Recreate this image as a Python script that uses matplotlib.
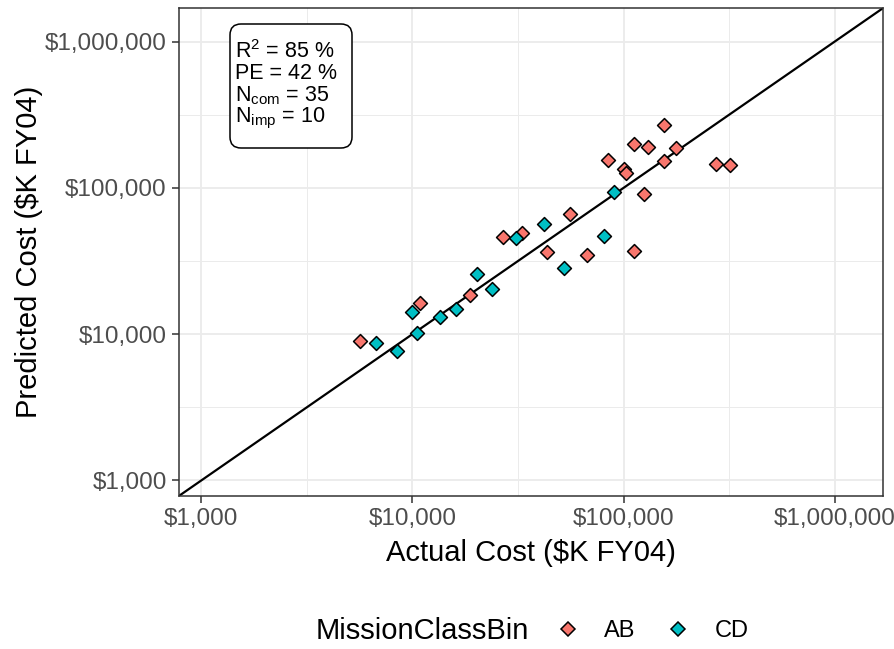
import matplotlib
matplotlib.use("Agg")
import matplotlib.pyplot as plt
from matplotlib.lines import Line2D
from matplotlib.patches import FancyBboxPatch
from matplotlib.ticker import FixedLocator, FuncFormatter, NullFormatter

plt.rcParams['font.family'] = ['Liberation Sans', 'DejaVu Sans']
plt.rcParams['mathtext.fontset'] = 'custom'
plt.rcParams['mathtext.rm'] = 'Liberation Sans'
plt.rcParams['mathtext.it'] = 'Liberation Sans:italic'

# actual vs predicted cost ($K FY04), by mission class
ab_actual = [5670, 10800, 18800, 26700, 33200, 55500, 43600, 66800, 111500, 156000,
             111500, 130000, 178000, 84000, 100000, 102200, 156000, 273000, 318000, 124400]
ab_pred = [8960, 16300, 18400, 45800, 49500, 65800, 36200, 34500, 36800, 270000,
           200000, 191000, 188000, 156000, 135000, 127000, 153500, 146500, 144000, 91400]
cd_actual = [6680, 8400, 10450, 9900, 13570, 16000, 23700, 20300, 30800, 42200,
             52000, 80400, 89700]
cd_pred = [8680, 7660, 10160, 14100, 13060, 14800, 20300, 25600, 45100, 56200,
           28200, 46600, 94400]

major_ticks = [1e3, 1e4, 1e5, 1e6]
minor_ticks = [10 ** 3.5, 10 ** 4.5, 10 ** 5.5]
lims = (10 ** 2.895, 10 ** 6.228)

stats_lines = [r'R$^{2}$ = 85 %', 'PE = 42 %',
               r'N$_{\mathrm{com}}$ = 35', r'N$_{\mathrm{imp}}$ = 10']

col_ab = '#F8766D'
col_cd = '#00BFC4'

fig = plt.figure(figsize=(8.95, 6.49), dpi=100)
ax = fig.add_axes([0.2003, 0.2362, 0.9863 - 0.2003, 0.9872 - 0.2362])

ax.set_xscale('log')
ax.set_yscale('log')
ax.set_xlim(lims)
ax.set_ylim(lims)

# 1:1 reference line
ax.plot(lims, lims, color='black', lw=1.6, zorder=2)

mk = dict(marker='D', s=50, edgecolors='black', linewidths=1.1, zorder=3)
ax.scatter(ab_actual, ab_pred, c=col_ab, **mk)
ax.scatter(cd_actual, cd_pred, c=col_cd, **mk)

money = FuncFormatter(lambda v, p: '${:,.0f}'.format(v))
for axis in (ax.xaxis, ax.yaxis):
    axis.set_major_locator(FixedLocator(major_ticks))
    axis.set_minor_locator(FixedLocator(minor_ticks))
    axis.set_major_formatter(money)
    axis.set_minor_formatter(NullFormatter())

ax.grid(which='major', color='#EBEBEB', lw=1.3, zorder=0)
ax.grid(which='minor', color='#EBEBEB', lw=0.7, zorder=0)
ax.set_axisbelow(True)
ax.tick_params(which='major', length=5, width=1.1, color='#333333',
               labelsize=17.5, labelcolor='#4D4D4D', pad=4)
ax.tick_params(which='minor', length=0)
for sp in ax.spines.values():
    sp.set_color('#333333')
    sp.set_linewidth(1.1)

ax.set_xlabel('Actual Cost ($K FY04)', fontsize=21)
ax.set_ylabel('Predicted Cost ($K FY04)', fontsize=21)
ax.xaxis.set_label_coords(0.5, -0.089)
ax.yaxis.set_label_coords(-0.194, 0.5)

# stats box, placed in inches from the figure's lower-left corner
box = FancyBboxPatch((2.30, 5.01), 1.22, 1.24,
                     boxstyle='round,pad=0,rounding_size=0.11',
                     transform=fig.dpi_scale_trans, fc='white', ec='black',
                     lw=1.1, zorder=5, clip_on=False)
ax.add_patch(box)
for i, s in enumerate(stats_lines):
    fig.text(2.35, 5.915 - 0.218 * i, s, fontsize=15.5, va='baseline', ha='left',
             transform=fig.dpi_scale_trans, zorder=6)

# legend along the bottom
fig.text(316 / 895, 1 - 631 / 649, 'MissionClassBin', fontsize=21,
         ha='left', va='center')
handles = [Line2D([], [], ls='none', marker='D', ms=7, mfc=col_ab, mec='black', mew=1.1),
           Line2D([], [], ls='none', marker='D', ms=7, mfc=col_cd, mec='black', mew=1.1)]
fig.legend(handles, ['AB', 'CD'], loc='center left', ncol=2,
           bbox_to_anchor=(556 / 895, 1 - 631 / 649), frameon=False, fontsize=17,
           handlelength=1.0, handletextpad=1.05, columnspacing=1.3,
           borderpad=0, borderaxespad=0)

fig.savefig('out.png', dpi=100)
